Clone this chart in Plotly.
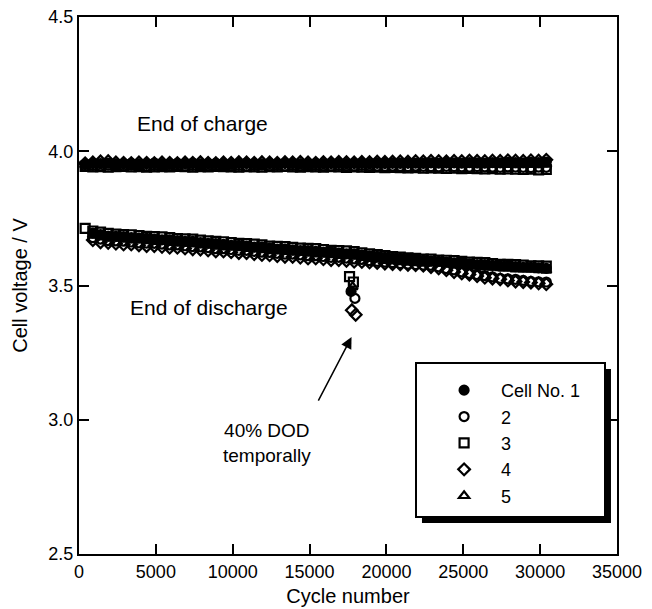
import plotly.graph_objects as go

# ---------------- data ----------------
cycles = [400, 900, 1400, 1900, 2400, 2900, 3400, 3900, 4400, 4900,
          5400, 5900, 6400, 6900, 7400, 7900, 8400, 8900, 9400, 9900,
          10400, 10900, 11400, 11900, 12400, 12900, 13400, 13900, 14400, 14900,
          15400, 15900, 16400, 16900, 17400, 17900, 18400, 18900, 19400, 19900,
          20400, 20900, 21400, 21900, 22400, 22900, 23400, 23900, 24400, 24900,
          25400, 25900, 26400, 26900, 27400, 27900, 28400, 28900, 29400, 29900,
          30400]

cell_names = ["Cell No. 1", "2", "3", "4", "5"]

# End-of-charge voltage (V)
charge_1 = [3.952, 3.955, 3.954, 3.956, 3.953, 3.954, 3.955, 3.953, 3.954, 3.956,
            3.954, 3.953, 3.955, 3.954, 3.956, 3.953, 3.954, 3.955, 3.954, 3.953,
            3.955, 3.956, 3.954, 3.953, 3.955, 3.954, 3.956, 3.955, 3.953, 3.954,
            3.955, 3.954, 3.956, 3.955, 3.954, 3.956, 3.955, 3.954, 3.956, 3.955,
            3.956, 3.955, 3.957, 3.956, 3.955, 3.957, 3.956, 3.958, 3.957, 3.956,
            3.958, 3.957, 3.956, 3.958, 3.957, 3.959, 3.958, 3.957, 3.959, 3.958, 3.960]
charge_2 = [3.945, 3.947, 3.946, 3.948, 3.947, 3.946, 3.948, 3.947, 3.945, 3.947,
            3.948, 3.946, 3.947, 3.945, 3.947, 3.948, 3.946, 3.947, 3.948, 3.946,
            3.947, 3.945, 3.947, 3.948, 3.946, 3.947, 3.945, 3.947, 3.946, 3.948,
            3.947, 3.946, 3.945, 3.947, 3.946, 3.945, 3.947, 3.946, 3.945, 3.944,
            3.945, 3.944, 3.943, 3.945, 3.944, 3.943, 3.942, 3.944, 3.943, 3.942,
            3.941, 3.943, 3.942, 3.941, 3.940, 3.942, 3.941, 3.940, 3.939, 3.941, 3.940]
charge_3 = [3.944, 3.942, 3.943, 3.941, 3.943, 3.944, 3.942, 3.943, 3.941, 3.942,
            3.943, 3.942, 3.944, 3.943, 3.941, 3.943, 3.942, 3.944, 3.943, 3.942,
            3.941, 3.943, 3.942, 3.941, 3.943, 3.942, 3.944, 3.942, 3.941, 3.943,
            3.942, 3.941, 3.943, 3.942, 3.940, 3.942, 3.941, 3.940, 3.941, 3.939,
            3.940, 3.939, 3.938, 3.939, 3.937, 3.938, 3.937, 3.936, 3.937, 3.935,
            3.936, 3.935, 3.934, 3.935, 3.933, 3.934, 3.933, 3.932, 3.933, 3.931, 3.932]
charge_4 = [3.955, 3.958, 3.962, 3.963, 3.958, 3.957, 3.956, 3.958, 3.957, 3.956,
            3.958, 3.957, 3.956, 3.958, 3.957, 3.959, 3.957, 3.956, 3.958, 3.957,
            3.959, 3.958, 3.957, 3.959, 3.958, 3.957, 3.959, 3.958, 3.960, 3.958,
            3.957, 3.959, 3.958, 3.960, 3.959, 3.958, 3.960, 3.959, 3.961, 3.960,
            3.961, 3.962, 3.961, 3.963, 3.962, 3.964, 3.963, 3.962, 3.964, 3.963,
            3.965, 3.964, 3.963, 3.965, 3.964, 3.966, 3.965, 3.964, 3.966, 3.965, 3.968]
charge_5 = [3.948, 3.950, 3.951, 3.949, 3.950, 3.952, 3.950, 3.949, 3.951, 3.950,
            3.949, 3.951, 3.950, 3.952, 3.950, 3.949, 3.951, 3.950, 3.949, 3.951,
            3.950, 3.952, 3.951, 3.950, 3.949, 3.951, 3.950, 3.952, 3.951, 3.950,
            3.951, 3.950, 3.949, 3.951, 3.950, 3.952, 3.951, 3.950, 3.949, 3.951,
            3.950, 3.951, 3.949, 3.950, 3.952, 3.950, 3.951, 3.949, 3.950, 3.951,
            3.950, 3.949, 3.951, 3.950, 3.952, 3.950, 3.949, 3.951, 3.950, 3.949, 3.951]

# End-of-discharge voltage (V)
discharge_1 = [None, 3.695, 3.690, 3.684, 3.683, 3.682, 3.678, 3.677, 3.676, 3.673,
               3.670, 3.670, 3.667, 3.664, 3.664, 3.660, 3.657, 3.656, 3.653, 3.650,
               3.650, 3.647, 3.643, 3.643, 3.639, 3.636, 3.636, 3.633, 3.630, 3.630,
               3.627, 3.624, 3.624, 3.621, 3.618, 3.618, 3.614, 3.610, 3.609, 3.605,
               3.602, 3.601, 3.598, 3.596, 3.594, 3.591, 3.590, 3.587, 3.584, 3.584,
               3.581, 3.578, 3.578, 3.575, 3.572, 3.573, 3.570, 3.568, 3.568, 3.566, 3.564]
discharge_2 = [None, 3.678, 3.673, 3.667, 3.666, 3.665, 3.662, 3.659, 3.658, 3.657,
               3.654, 3.651, 3.651, 3.648, 3.645, 3.644, 3.641, 3.637, 3.637, 3.634,
               3.631, 3.631, 3.627, 3.624, 3.623, 3.620, 3.617, 3.617, 3.614, 3.611,
               3.611, 3.608, 3.605, 3.605, 3.602, 3.599, 3.597, 3.593, 3.590, 3.587,
               3.585, 3.582, 3.580, 3.578, 3.576, 3.575, 3.569, 3.563, 3.558, 3.551,
               3.545, 3.541, 3.537, 3.532, 3.527, 3.525, 3.523, 3.519, 3.515, 3.514, 3.513]
discharge_3 = [3.713, 3.703, 3.699, 3.694, 3.691, 3.690, 3.689, 3.686, 3.683, 3.682,
               3.681, 3.678, 3.675, 3.674, 3.673, 3.669, 3.666, 3.664, 3.663, 3.660,
               3.657, 3.656, 3.654, 3.651, 3.647, 3.646, 3.645, 3.642, 3.639, 3.638,
               3.637, 3.634, 3.631, 3.630, 3.629, 3.626, 3.622, 3.618, 3.615, 3.611,
               3.608, 3.606, 3.603, 3.601, 3.598, 3.598, 3.595, 3.594, 3.593, 3.590,
               3.587, 3.586, 3.585, 3.582, 3.579, 3.579, 3.578, 3.576, 3.573, 3.573, 3.572]
discharge_4 = [None, 3.669, 3.661, 3.659, 3.656, 3.653, 3.653, 3.650, 3.647, 3.647,
               3.644, 3.641, 3.641, 3.638, 3.635, 3.634, 3.631, 3.627, 3.627, 3.624,
               3.621, 3.621, 3.617, 3.614, 3.613, 3.610, 3.607, 3.607, 3.604, 3.601,
               3.601, 3.598, 3.595, 3.595, 3.592, 3.589, 3.588, 3.586, 3.584, 3.582,
               3.580, 3.579, 3.577, 3.576, 3.574, 3.569, 3.564, 3.557, 3.550, 3.545,
               3.541, 3.535, 3.529, 3.526, 3.523, 3.519, 3.515, 3.513, 3.511, 3.508, 3.505]
discharge_5 = [None, 3.687, 3.680, 3.675, 3.675, 3.672, 3.669, 3.669, 3.666, 3.663,
               3.663, 3.660, 3.657, 3.657, 3.654, 3.650, 3.650, 3.646, 3.643, 3.643,
               3.640, 3.637, 3.636, 3.633, 3.629, 3.629, 3.626, 3.623, 3.623, 3.620,
               3.617, 3.617, 3.614, 3.611, 3.611, 3.608, 3.604, 3.600, 3.597, 3.593,
               3.591, 3.588, 3.586, 3.584, 3.582, 3.583, 3.582, 3.579, 3.576, 3.575,
               3.574, 3.571, 3.568, 3.567, 3.566, 3.564, 3.561, 3.561, 3.560, 3.558, 3.556]

# Temporary 40% DOD cycling (end-of-discharge)
dod_cycles_1, dod_volts_1 = [17700], [3.478]
dod_cycles_2, dod_volts_2 = [17950], [3.452]
dod_cycles_3, dod_volts_3 = [17600, 17850], [3.533, 3.513]
dod_cycles_4, dod_volts_4 = [17750, 18000], [3.408, 3.391]
dod_cycles_5, dod_volts_5 = [17800], [3.495]

x_ticks = [0, 5000, 10000, 15000, 20000, 25000, 30000, 35000]
y_ticks = [2.5, 3.0, 3.5, 4.0, 4.5]

# ---------------- figure ----------------
FONT = "Liberation Sans, Arial, Helvetica, sans-serif"
symbols = ["circle", "circle-open", "square-open", "diamond-open", "triangle-up-open"]
charges = [charge_1, charge_2, charge_3, charge_4, charge_5]
discharges = [discharge_1, discharge_2, discharge_3, discharge_4, discharge_5]
dod_c = [dod_cycles_1, dod_cycles_2, dod_cycles_3, dod_cycles_4, dod_cycles_5]
dod_v = [dod_volts_1, dod_volts_2, dod_volts_3, dod_volts_4, dod_volts_5]

fig = go.Figure()
for k in range(5):
    xs = cycles + [None] + cycles + [None] + dod_c[k]
    ys = charges[k] + [None] + discharges[k] + [None] + dod_v[k]
    fig.add_trace(go.Scatter(
        x=xs, y=ys, mode="markers", name=cell_names[k],
        marker=dict(symbol=symbols[k], size=9, color="black",
                    line=dict(color="black", width=2.2)),
    ))

axis_common = dict(
    showgrid=False, zeroline=False, showline=True, linecolor="black", linewidth=2,
    mirror="ticks", ticks="inside", ticklen=10, tickwidth=2, tickcolor="black",
    automargin=False,
    tickfont=dict(family=FONT, size=18, color="black"),
)

fig.update_layout(
    width=652, height=609,
    margin=dict(l=79, r=35, t=17, b=55, autoexpand=False),
    paper_bgcolor="white", plot_bgcolor="white",
    font=dict(family=FONT, color="black"),
    xaxis=dict(range=[0, 35000], tickvals=x_ticks, tickformat="d",
               title=dict(text="Cycle number", font=dict(family=FONT, size=20), standoff=8),
               ticklabelstandoff=0, **axis_common),
    yaxis=dict(range=[2.5, 4.5], tickvals=y_ticks, tickformat=".1f",
               title=dict(text="Cell voltage / V", font=dict(family=FONT, size=20), standoff=15),
               ticklabelstandoff=0, **axis_common),
    showlegend=True,
    legend=dict(x=0.647, y=0.339, xanchor="left", yanchor="top",
                bgcolor="rgba(0,0,0,0)", borderwidth=0,
                font=dict(family=FONT, size=18, color="black"),
                itemwidth=64, tracegroupgap=0),
)

# legend frame with drop shadow
fig.add_shape(type="rect", xref="paper", yref="paper",
              x0=0.6375, x1=0.9888, y0=0.0577, y1=0.3445,
              fillcolor="black", line=dict(width=0), layer="above")
fig.add_shape(type="rect", xref="paper", yref="paper",
              x0=0.6264, x1=0.9777, y0=0.0689, y1=0.3557,
              fillcolor="white", line=dict(color="black", width=2), layer="above")

fig.add_annotation(x=3640, y=4.104, text="End of charge", showarrow=False,
                   xanchor="left", yanchor="middle",
                   font=dict(family=FONT, size=21, color="black"))
fig.add_annotation(x=3180, y=3.419, text="End of discharge", showarrow=False,
                   xanchor="left", yanchor="middle",
                   font=dict(family=FONT, size=21, color="black"))
fig.add_annotation(x=12200, y=2.915, text="40% DOD<br>temporally", showarrow=False,
                   xanchor="center", yanchor="middle",
                   font=dict(family=FONT, size=19, color="black"))
fig.add_annotation(x=17730, y=3.308, ax=15520, ay=3.066, axref="x", ayref="y",
                   xref="x", yref="y", text="", showarrow=True,
                   arrowhead=2, arrowsize=1.5, arrowwidth=1.5, arrowcolor="black")

fig.write_html("out.html", config={"displayModeBar": False},
               post_script="document.body.style.margin='0';")
